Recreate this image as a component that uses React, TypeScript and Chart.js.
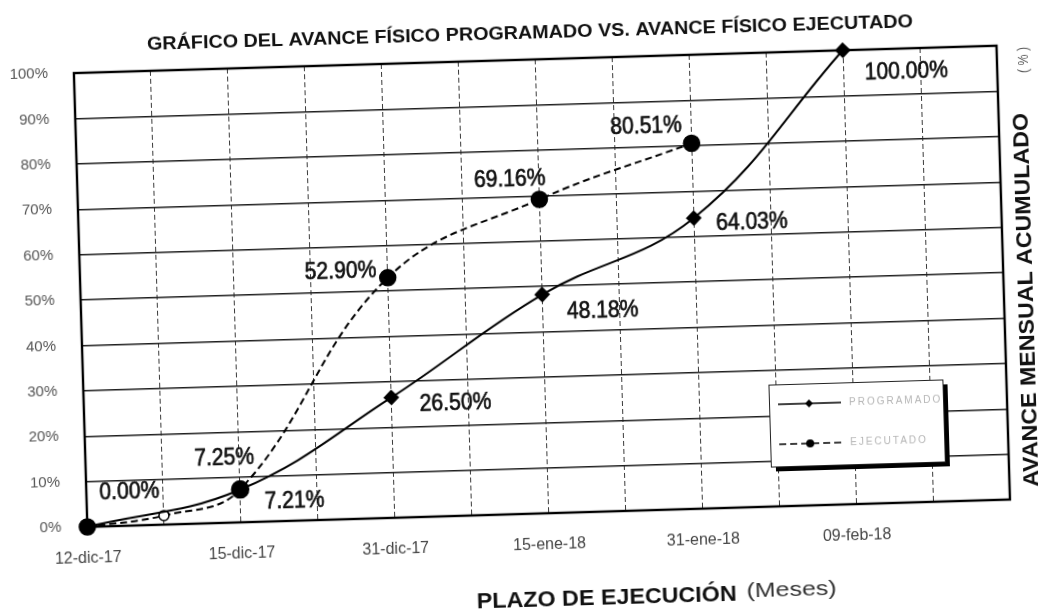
import React, { useEffect, useRef } from 'react';
import { Chart, registerables } from 'chart.js';

Chart.register(...registerables);

// ---------- data ----------
const categories = ['12-dic-17', '', '15-dic-17', '', '31-dic-17', '', '15-ene-18', '', '31-ene-18', '', '09-feb-18', '', ''];
const programado: (number | null)[] = [0, null, 7.21, null, 26.5, null, 48.18, null, 64.03, null, 100, null, null];
const ejecutado: (number | null)[] = [0, 2.0, 7.25, null, 52.9, null, 69.16, null, 80.51, null, null, null, null];
const yTickLabels = ['0%', '10%', '20%', '30%', '40%', '50%', '60%', '70%', '80%', '90%', '100%'];
const seriesNames = ['PROGRAMADO', 'EJECUTADO'];
const titleText = 'GRÁFICO DEL AVANCE FÍSICO PROGRAMADO VS. AVANCE FÍSICO EJECUTADO';
const xTitleBold = 'PLAZO DE EJECUCIÓN';
const xTitleNormal = '(Meses)';
const yTitleBold = 'AVANCE MENSUAL ACUMULADO';
const yTitleNormal = '( % )';

// label placement (offset from the point, px) — layout only
const progLabelOffsets: ([number, number] | null)[] = [null, null, [54, 13], null, [64, 8], null, [60, 18], null, [58, 6], null, [63, 23], null, null];
const ejecLabelOffsets: ([number, number] | null)[] = [[43, -34], null, [-15, -32], null, [-47, -7], null, [-29, -21], null, [-45, -18], null, null, null, null];

// ---------- layout ----------
const CW = 1080;
const CH = 650;
const OX = 21;
const OY = 19;
const FONT = '"Liberation Sans", Arial, Helvetica, sans-serif';

function drawFit(ctx: CanvasRenderingContext2D, text: string, cx: number, cy: number, font: string, width: number, strokeW = 0) {
  ctx.save();
  ctx.font = font;
  const w = ctx.measureText(text).width || 1;
  ctx.translate(cx, cy);
  ctx.scale(width / w, 1);
  ctx.textAlign = 'center';
  ctx.textBaseline = 'middle';
  ctx.fillText(text, 0, 0);
  if (strokeW > 0) {
    ctx.strokeStyle = ctx.fillStyle as string;
    ctx.lineWidth = strokeW;
    ctx.strokeText(text, 0, 0);
  }
  ctx.restore();
}

const framePlugin = {
  id: 'frame',
  beforeDatasetsDraw(chart: any) {
    const { ctx, chartArea: a } = chart;
    ctx.save();
    ctx.strokeStyle = '#000';
    ctx.lineWidth = 2.4;
    ctx.strokeRect(a.left, a.top, a.right - a.left, a.bottom - a.top);
    ctx.restore();
  },
};

const labelsPlugin = {
  id: 'valueLabels',
  afterDatasetsDraw(chart: any) {
    const ctx = chart.ctx;
    const offsetsList = [progLabelOffsets, ejecLabelOffsets];
    ctx.save();
    ctx.fillStyle = '#111';
    chart.data.datasets.forEach((ds: any, di: number) => {
      const meta = chart.getDatasetMeta(di);
      const offs = offsetsList[di];
      ds.data.forEach((v: number | null, i: number) => {
        const o = offs[i];
        if (v === null || !o) return;
        const pt = meta.data[i];
        const txt = v.toFixed(2) + '%';
        ctx.font = `24px ${FONT}`;
        const w = ctx.measureText(txt).width * 0.88;
        drawFit(ctx, txt, pt.x + o[0], pt.y + o[1], `24px ${FONT}`, w, 0.7);
      });
    });
    ctx.restore();
  },
};

const textPlugin = {
  id: 'texts',
  afterDraw(chart: any) {
    const ctx: CanvasRenderingContext2D = chart.ctx;
    ctx.save();
    ctx.fillStyle = '#111';
    // main title
    drawFit(ctx, titleText, 559, 53, `bold 19px ${FONT}`, 766);
    // x title
    drawFit(ctx, xTitleBold, 619, 620, `bold 22px ${FONT}`, 260);
    ctx.fillStyle = '#333';
    drawFit(ctx, xTitleNormal, 804, 617, `20px ${FONT}`, 90);
    // right-side title (bottom to top)
    ctx.save();
    ctx.translate(1048, 334);
    ctx.rotate(-Math.PI / 2);
    ctx.fillStyle = '#111';
    drawFit(ctx, yTitleBold, 0, 0, `bold 22px ${FONT}`, 374);
    ctx.restore();
    ctx.save();
    ctx.translate(1052, 94);
    ctx.rotate(-Math.PI / 2);
    ctx.fillStyle = '#555';
    drawFit(ctx, yTitleNormal, 0, 0, `14px ${FONT}`, 26);
    ctx.restore();

    // legend box
    const bx = 787, by = 411, bw = 174, bh = 82;
    ctx.fillStyle = '#000';
    ctx.fillRect(bx + 5, by + 5, bw, bh);
    ctx.fillStyle = '#fff';
    ctx.fillRect(bx, by, bw, bh);
    ctx.strokeStyle = '#222';
    ctx.lineWidth = 1;
    ctx.strokeRect(bx + 0.5, by + 0.5, bw, bh);
    const rows = [by + 20, by + 60];
    chart.data.datasets.forEach((ds: any, di: number) => {
      const y = rows[di];
      ctx.save();
      ctx.strokeStyle = '#000';
      ctx.lineWidth = 1.5;
      ctx.setLineDash(ds.borderDash || []);
      ctx.beginPath();
      ctx.moveTo(bx + 9, y);
      ctx.lineTo(bx + 72, y);
      ctx.stroke();
      ctx.setLineDash([]);
      ctx.fillStyle = '#000';
      ctx.beginPath();
      if (ds.pointStyle === 'rectRot') {
        ctx.moveTo(bx + 40, y - 4);
        ctx.lineTo(bx + 44, y);
        ctx.lineTo(bx + 40, y + 4);
        ctx.lineTo(bx + 36, y);
        ctx.closePath();
      } else {
        ctx.arc(bx + 40, y, 4, 0, Math.PI * 2);
      }
      ctx.fill();
      ctx.fillStyle = '#b5b5b5';
      ctx.font = `10px ${FONT}`;
      (ctx as any).letterSpacing = '2px';
      ctx.textAlign = 'left';
      ctx.textBaseline = 'middle';
      ctx.fillText(seriesNames[di], bx + 80, y);
      ctx.restore();
    });
    ctx.restore();
  },
};

export default function App() {
  const ref = useRef<HTMLCanvasElement>(null);
  useEffect(() => {
    if (!ref.current) return;
    Chart.defaults.font.family = FONT;
    const chart = new Chart(ref.current, {
      type: 'line',
      data: {
        labels: categories,
        datasets: [
          {
            label: seriesNames[0],
            data: programado,
            borderColor: '#000',
            backgroundColor: '#000',
            borderWidth: 2,
            tension: 0.4,
            spanGaps: true,
            clip: false,
            pointStyle: 'rectRot',
            pointRadius: 6.5,
            pointBackgroundColor: '#000',
            pointBorderColor: '#000',
            fill: false,
          },
          {
            label: seriesNames[1],
            data: ejecutado,
            borderColor: '#000',
            backgroundColor: '#000',
            borderWidth: 2,
            borderDash: [7, 4],
            tension: 0.4,
            spanGaps: true,
            clip: false,
            pointStyle: 'circle',
            pointRadius: [8, 5, 8.5, 0, 8, 0, 8, 0, 8, 0, 0, 0, 0],
            pointBackgroundColor: ['#000', '#fff', '#000', '#000', '#000', '#000', '#000', '#000', '#000', '#000', '#000', '#000', '#000'],
            pointBorderColor: '#000',
            pointBorderWidth: 1.5,
            fill: false,
          },
        ],
      },
      options: {
        animation: false,
        responsive: false,
        devicePixelRatio: 1,
        events: [],
        layout: { padding: { left: 0, top: 79, right: 55, bottom: 0 } },
        plugins: {
          legend: { display: false },
          title: { display: false },
          tooltip: { enabled: false },
        },
        scales: {
          x: {
            type: 'category',
            offset: false,
            grid: { color: '#3a3a3a', lineWidth: 1, drawTicks: false },
            border: { display: false, dash: [5, 3] },
            ticks: {
              autoSkip: false,
              maxRotation: 0,
              minRotation: 0,
              padding: 22,
              color: '#444',
              font: { size: 16 },
            },
            afterFit: (s: any) => {
              s.height = 117;
            },
          },
          y: {
            min: 0,
            max: 100,
            grid: { color: '#1e1e1e', lineWidth: 1.4, drawTicks: false },
            border: { display: false },
            ticks: {
              stepSize: 10,
              padding: 26,
              color: '#555',
              font: { size: 15 },
              callback: (_v: any, i: number) => yTickLabels[i],
            },
            afterFit: (s: any) => {
              s.width = 102;
            },
          },
        },
      },
      plugins: [framePlugin, labelsPlugin, textPlugin],
    } as any);
    return () => chart.destroy();
  }, []);

  return (
    <canvas
      ref={ref}
      width={CW}
      height={CH}
      style={{
        position: 'fixed',
        left: -OX,
        top: -OY,
        width: CW,
        height: CH,
        transform: 'rotate(-1.7deg)',
        transformOrigin: '50% 50%',
        background: '#fff',
      }}
    />
  );
}
